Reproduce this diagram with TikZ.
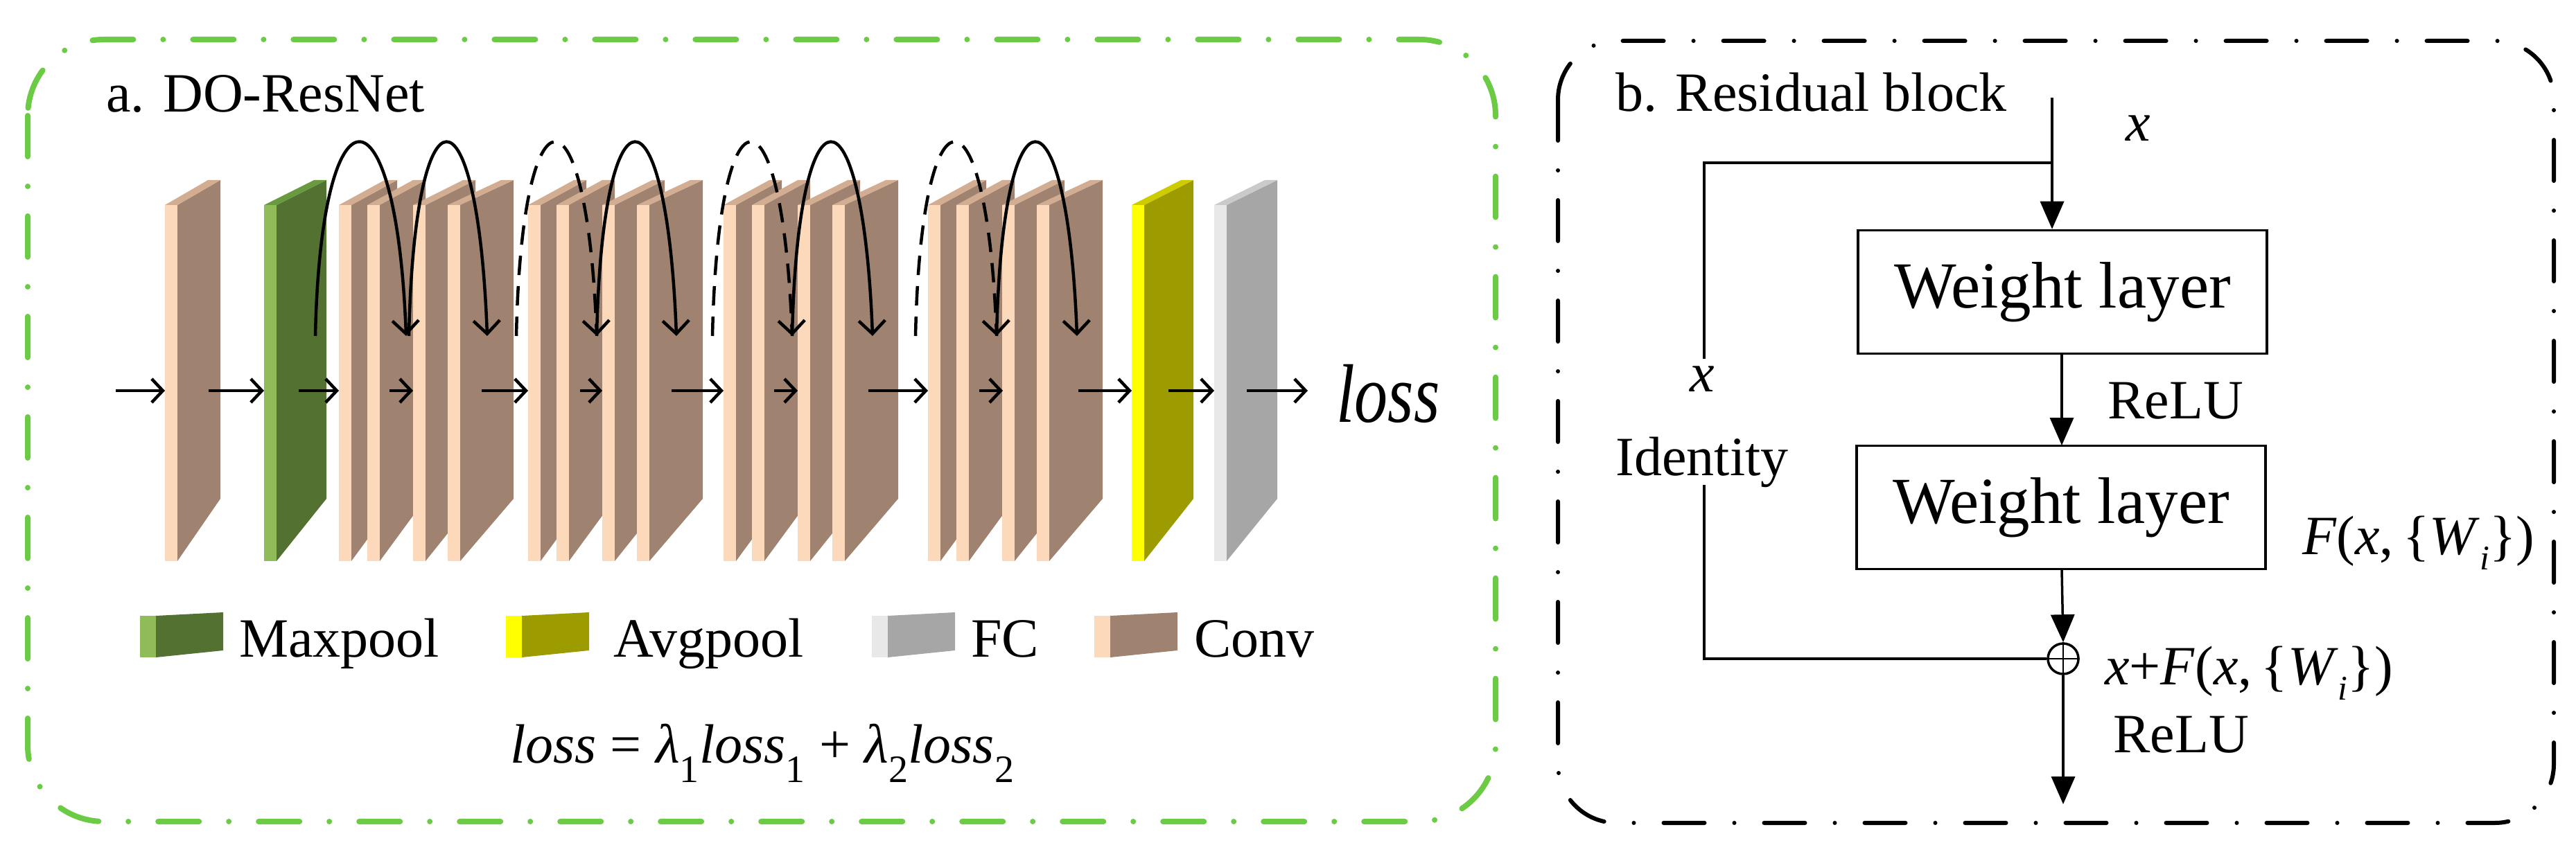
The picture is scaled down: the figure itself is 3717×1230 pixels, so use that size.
\documentclass[tikz,border=0pt]{standalone}
\usepackage{fontspec}
\setmainfont{Liberation Serif}
\usetikzlibrary{arrows.meta,calc}
\definecolor{cvS}{HTML}{FDD9BC}\definecolor{cvB}{HTML}{A08270}\definecolor{cvT}{HTML}{D2AD92}
\definecolor{mpS}{HTML}{8FBC58}\definecolor{mpB}{HTML}{537232}\definecolor{mpT}{HTML}{6A9A40}
\definecolor{apS}{HTML}{FFFF00}\definecolor{apB}{HTML}{9C9C00}\definecolor{apT}{HTML}{CCCC00}
\definecolor{fcS}{HTML}{E8E8E8}\definecolor{fcB}{HTML}{A6A6A6}\definecolor{fcT}{HTML}{CACACA}
\definecolor{frG}{HTML}{6BCB45}
\newcommand\myplate[5]{%
  \fill[#4] ({#1+18},296)--({#1+18+#2},260)--({#1+18+#2},720)--({#1+18},810)--cycle;
  \fill[#5] (#1,296)--({#1+18},296)--({#1+18+#2},260)--({#1+#2},260)--cycle;
  \fill[#3] (#1,296) rectangle ({#1+18},810);}
\newcommand\myicon[3]{%
  \fill[#3] ({#1+23},889)--({#1+120},884)--({#1+120},939)--({#1+23},949)--cycle;
  \fill[#2] (#1,889) rectangle ({#1+23},949);}
\newcommand\myfont[1]{\fontsize{#1}{#1}\selectfont}
\newcommand\mysubi{\raisebox{-0.28em}{\fontsize{50}{50}\selectfont\itshape i}}
\begin{document}
\begin{tikzpicture}[x=1pt,y=-1pt,
  harr/.style={line width=4.5pt,-{Straight Barb[length=16pt,width=34pt,line width=4.5pt]}},
  sarc/.style={line width=4.5pt,-{Straight Barb[length=19pt,width=38pt,line width=4.5pt]}},
  darc/.style={sarc,dash pattern=on 28pt off 16pt},
  flow/.style={line width=3.5pt,-{Triangle[length=40pt,width=34pt]}},
  wbox/.style={draw,line width=3.5pt,minimum width=590pt,minimum height=178pt,inner sep=0pt,font=\myfont{95}},
  lbl/.style={font=\myfont{80},inner sep=0pt},
  frame/.style={line width=8pt,line cap=round,dash pattern=on 59pt off 43pt on 0pt off 43pt}]
\useasboundingbox (0,0) rectangle (3717,1230);
% frames
\draw[frame,frG,rounded corners=110pt] (40,57) rectangle (2158,1186);
\draw[frame,black,line width=6pt,rounded corners=85pt] (2248,59) rectangle (3685,1188);
\node[lbl,anchor=base west] (ta) at (153,162) {a. DO-ResNet};
% plates
\myplate{238}{62}{cvS}{cvB}{cvT}
\myplate{381}{72}{mpS}{mpB}{mpT}
\foreach \s in {489,762,1044,1339}{
  \myplate{\s}{66}{cvS}{cvB}{cvT}
  \myplate{\s+41}{66}{cvS}{cvB}{cvT}
  \myplate{\s+107}{72}{cvS}{cvB}{cvT}
  \myplate{\s+157}{77}{cvS}{cvB}{cvT}}
\myplate{1633}{71}{apS}{apB}{apT}
\myplate{1752}{73}{fcS}{fcB}{fcT}
% horizontal arrows
\foreach \a/\b [count=\i] in {167/238,301/381,431/489,562/596,695/762,837/869,969/1044,1117/1151,1253/1339,1413/1447,1556/1633,1686/1752,1799/1887}{
  \coordinate (h\i s) at (\a,564); \coordinate (h\i e) at (\b,564);
  \draw[harr] (h\i s) -- (h\i e);}
\node[font=\myfont{120}\itshape,inner sep=0pt,anchor=base west,xscale=0.8] (loss) at (1928,609) {loss};
% skip arcs
\foreach \a/\b/\st [count=\i] in {455/586/sarc,590/703/sarc,745/861/darc,861/976/sarc,1028/1143/darc,1143/1259/sarc,1321/1438/darc,1438/1554/sarc}{
  \coordinate (k\i s) at (\a,485); \coordinate (k\i e) at (\b,485);
  \draw[\st] (k\i s) .. controls ($(k\i s)+(8,-373)$) and ($(k\i e)+(-14,-373)$) .. (k\i e);}
% legend
\myicon{202}{mpS}{mpB}
\myicon{730}{apS}{apB}
\myicon{1258}{fcS}{fcB}
\myicon{1579}{cvS}{cvB}
\node[lbl,anchor=base west] (l1) at (345,948) {Maxpool};
\node[lbl,anchor=base west] (l2) at (885,948) {Avgpool};
\node[lbl,anchor=base west] (l3) at (1401,948) {FC};
\node[lbl,anchor=base west] (l4) at (1723,948) {Conv};
\node[lbl,anchor=base] (eq) at (1100,1101) {\textit{loss} = \textit{λ}\textsubscript{1}\textit{loss}\textsubscript{1} + \textit{λ}\textsubscript{2}\textit{loss}\textsubscript{2}};
% residual block
\node[lbl,anchor=base west] (tb) at (2331,161) {b. Residual block};
\node[wbox] (w1) at (2976,421.5) {Weight layer};
\node[wbox] (w2) at (2974,732.5) {Weight layer};
\node[draw,circle,line width=3.5pt,minimum size=44pt,inner sep=0pt] (sum) at (2977,951) {};
\draw[line width=2.5pt] (sum.north)--(sum.south) (sum.west)--(sum.east);
\coordinate (in) at (2961,141);
\coordinate (out) at (2977,1161);
\coordinate (br) at (2961,235);
\draw[flow] (in) -- (in |- w1.north);
\draw[flow] (2975,510) -- (2975,643);
\draw[flow] (2975,822) -- (sum.north);
\draw[flow] (sum.south) -- (out);
\draw[line width=3.5pt] (br) -- (2459,235) -- (2459,518);
\draw[line width=3.5pt] (2459,700) -- (2459,951) -- (sum.west);
\node[lbl,anchor=base,font=\myfont{80}\itshape] (x1) at (3085,204) {x};
\node[lbl,anchor=base,font=\myfont{80}\itshape] (x2) at (2456,565) {x};
\node[lbl,anchor=base] (id) at (2456,686) {Identity};
\node[lbl,anchor=base west] (r1) at (3041,604) {ReLU};
\node[lbl,anchor=base west] (fx) at (3322,800) {\textit{F}(\textit{x},\,\{\textit{W}\mysubi\})};
\node[lbl,anchor=base west] (xf) at (3037,988) {\textit{x}+\textit{F}(\textit{x},\,\{\textit{W}\mysubi\})};
\node[lbl,anchor=base west] (r2) at (3049,1086) {ReLU};
\end{tikzpicture}
\end{document}
